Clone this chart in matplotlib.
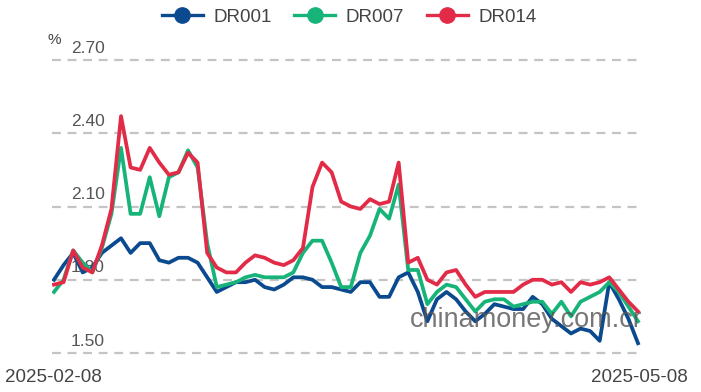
import numpy as np
import matplotlib
matplotlib.use("Agg")
import matplotlib.pyplot as plt
from matplotlib.lines import Line2D

plt.rcParams['font.family'] = ['Liberation Sans', 'DejaVu Sans']

# 62 trading days, 2025-02-08 .. 2025-05-08
date_first = "2025-02-08"
date_last = "2025-05-08"

dr001 = [1.80, 1.86, 1.91, 1.83, 1.85, 1.91, 1.94, 1.97, 1.91, 1.95,
         1.95, 1.88, 1.87, 1.89, 1.89, 1.87, 1.81, 1.75, 1.77, 1.79,
         1.79, 1.80, 1.77, 1.76, 1.78, 1.81, 1.81, 1.80, 1.77, 1.77,
         1.76, 1.75, 1.79, 1.79, 1.73, 1.73, 1.81, 1.83, 1.75, 1.63,
         1.72, 1.75, 1.72, 1.67, 1.63, 1.66, 1.70, 1.69, 1.68, 1.68,
         1.73, 1.70, 1.64, 1.61, 1.58, 1.60, 1.59, 1.55, 1.79, 1.72,
         1.64, 1.54]
dr007 = [1.75, 1.80, 1.92, 1.87, 1.83, 1.93, 2.07, 2.34, 2.07, 2.07,
         2.22, 2.06, 2.22, 2.24, 2.33, 2.26, 1.95, 1.77, 1.78, 1.79,
         1.81, 1.82, 1.81, 1.81, 1.81, 1.83, 1.91, 1.96, 1.96, 1.87,
         1.77, 1.77, 1.91, 1.98, 2.09, 2.05, 2.19, 1.84, 1.84, 1.70,
         1.75, 1.78, 1.77, 1.72, 1.67, 1.71, 1.72, 1.72, 1.69, 1.70,
         1.71, 1.71, 1.66, 1.71, 1.65, 1.71, 1.73, 1.75, 1.79, 1.75,
         1.69, 1.63]
dr014 = [1.78, 1.79, 1.92, 1.85, 1.83, 1.94, 2.09, 2.47, 2.26, 2.25,
         2.34, 2.28, 2.23, 2.24, 2.32, 2.28, 1.91, 1.85, 1.83, 1.83,
         1.87, 1.90, 1.89, 1.87, 1.86, 1.88, 1.93, 2.18, 2.28, 2.24,
         2.12, 2.10, 2.09, 2.13, 2.11, 2.12, 2.28, 1.87, 1.89, 1.80,
         1.78, 1.83, 1.84, 1.78, 1.73, 1.75, 1.75, 1.75, 1.75, 1.78,
         1.80, 1.80, 1.78, 1.79, 1.75, 1.79, 1.78, 1.79, 1.81, 1.76,
         1.71, 1.67]

names = ["DR001", "DR007", "DR014"]
colors = ["#0b4a8f", "#17b47a", "#e22b47"]
yticks = [1.50, 1.80, 2.10, 2.40, 2.70]

W, H = 701, 392
fig = plt.figure(figsize=(W / 100, H / 100), dpi=100)
left, right, top, bottom = 52, 641, 60, 353
ax = fig.add_axes([left / W, 1 - bottom / H, (right - left) / W, (bottom - top) / H])

x = np.arange(len(dr001))
n = len(x) - 1
pxu = (638 - 54) / n
ax.set_xlim(-(54 - left) / pxu, n + (right - 638) / pxu)
ax.set_ylim(1.50, 2.70)

for vals, c in zip([dr001, dr007, dr014], colors):
    ax.plot(x, vals, color=c, lw=2.7, solid_joinstyle='round', zorder=3)

ax.set_yticks(yticks)
ax.set_xticks([])
ax.tick_params(axis='y', length=0, labelleft=False)
ax.grid(axis='y', color='#c4c4c4', lw=1.6, linestyle=(0, (4, 3)))
for gl in ax.get_ygridlines():
    gl.set_clip_on(False)
for s in ax.spines.values():
    s.set_visible(False)

ytr = ax.get_yaxis_transform()
for v in yticks:
    ax.text((105 - left) / (right - left), v + 0.018, f"{v:.2f}", transform=ytr,
            ha='right', va='bottom', fontsize=12.5, color='#555555', zorder=2)

fig.text(47 / W, 1 - 47 / H, "%", fontsize=11, color='#444444', ha='left', va='bottom')

fig.text(5 / W, 1 - 386 / H, date_first, fontsize=13.5, color='#444444', ha='left', va='bottom')
fig.text(688 / W, 1 - 386 / H, date_last, fontsize=13.5, color='#444444', ha='right', va='bottom')

# watermark, cut at the right edge of the plot area
ax.text((410 - left) / (right - left), (bottom - 327) / (bottom - top), "chinamoney.com.cn",
        transform=ax.transAxes, fontsize=19.5, color='#555555', alpha=0.8,
        ha='left', va='baseline', zorder=4, clip_on=True)

handles = [Line2D([0], [0], color=c, lw=2.4, marker='o', markersize=11,
                  markerfacecolor=c, markeredgecolor=c) for c in colors]
fig.legend(handles, names, loc='center', bbox_to_anchor=(349 / W, 1 - 17 / H),
           ncol=3, frameon=False, fontsize=13.5, handlelength=2.2, columnspacing=1.2,
           handletextpad=0.55, labelcolor='#444444')

fig.savefig("out.png", dpi=100)
